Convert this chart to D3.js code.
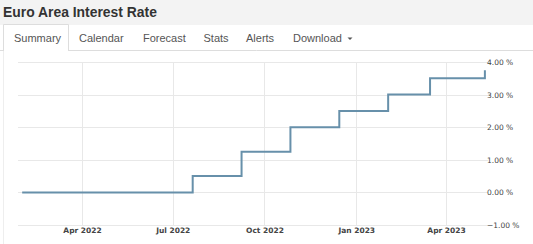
<!DOCTYPE html>
<html>
<head>
<meta charset="utf-8">
<script src="https://cdn.jsdelivr.net/npm/d3@7"></script>
<style>
  body { margin: 0; background: #fff; }
  svg { display: block; }
</style>
</head>
<body>
<div id="chart"></div>
<script>
// rate decisions, step chart (value holds until next date)
let dates = ["2022-01-31", "2022-03-10", "2022-04-14", "2022-06-09", "2022-07-21",
  "2022-09-08", "2022-10-27", "2022-12-15", "2023-02-02", "2023-03-16", "2023-05-10"];
let rates = [0, 0, 0, 0, 0.5, 1.25, 2.0, 2.5, 3.0, 3.5, 3.75];
let xTicks = ["2022-04-01", "2022-07-01", "2022-10-01", "2023-01-01", "2023-04-01"];
let yTicks = [-1, 0, 1, 2, 3, 4];
let tabs = ["Summary", "Calendar", "Forecast", "Stats", "Alerts", "Download"];

let parse = d3.timeParse("%Y-%m-%d");
let data = dates.map((d, i) => ({date: parse(d), value: rates[i]}));

let width = 533, height = 244;
let svg = d3.select("#chart").append("svg")
    .attr("width", width)
    .attr("height", height);

// header
svg.append("rect").attr("x", 0).attr("y", 0).attr("width", width).attr("height", 25)
    .attr("fill", "#f3f3f3");
svg.append("text").attr("x", 3).attr("y", 17)
    .attr("font-family", "Liberation Sans, Arial, sans-serif")
    .attr("font-size", 13.9).attr("font-weight", "bold").attr("fill", "#333")
    .text("Euro Area Interest Rate");

// tab bar
svg.append("line").attr("x1", 0).attr("x2", width).attr("y1", 50.5).attr("y2", 50.5)
    .attr("stroke", "#ddd");
svg.append("path")
    .attr("d", "M3.5,51V24.5H68.5V51")
    .attr("fill", "#fff").attr("stroke", "#ddd");
svg.append("rect").attr("x", 4).attr("y", 25).attr("width", 64).attr("height", 27).attr("fill", "#fff");
let tabX = [14, 79, 143, 203.5, 246, 293];
svg.selectAll(".tab").data(tabs).join("text")
    .attr("class", "tab")
    .attr("x", (d, i) => tabX[i]).attr("y", 42)
    .attr("font-family", "Liberation Sans, Arial, sans-serif")
    .attr("font-size", 11).attr("fill", "#555")
    .text(d => d);
svg.append("path").attr("d", "M347.5,37.5h5l-2.5,2.5z").attr("fill", "#555");
svg.append("line").attr("x1", 3.5).attr("x2", 3.5).attr("y1", 51).attr("y2", height)
    .attr("stroke", "#eee");

// scales: Apr 2022 gridline at 82, Apr 2023 at 446
let x = d3.scaleTime()
    .domain([parse("2022-04-01"), parse("2023-04-01")])
    .range([82, 446]);
let y = d3.scaleLinear().domain([-1, 4]).range([225, 62]);
let left = 18, right = 488;

let grid = svg.append("g");
grid.selectAll(".hg").data(yTicks).join("line")
    .attr("x1", left).attr("x2", right)
    .attr("y1", d => Math.round(y(d)) + 0.5).attr("y2", d => Math.round(y(d)) + 0.5)
    .attr("stroke", "#e8e8e8");
grid.selectAll(".vg").data(xTicks.map(parse)).join("line")
    .attr("x1", d => Math.round(x(d)) + 0.5).attr("x2", d => Math.round(x(d)) + 0.5)
    .attr("y1", y(4)).attr("y2", y(-1))
    .attr("stroke", "#e8e8e8");

// y axis on right
let yAxis = d3.axisRight(y).tickValues(yTicks).tickSize(0).tickPadding(0)
    .tickFormat(d => d3.format(".2f")(d) + " %");
svg.append("g").attr("transform", `translate(${right - 1},0)`).call(yAxis)
    .call(g => g.select(".domain").remove())
    .call(g => g.selectAll("text")
      .attr("font-family", "DejaVu Sans, sans-serif").attr("font-size", 7.5).attr("fill", "#444"));

// x axis
let xAxis = d3.axisBottom(x).tickValues(xTicks.map(parse)).tickSize(0).tickPadding(0)
    .tickFormat(d3.timeFormat("%b %Y"));
svg.append("g").attr("transform", `translate(0,${y(-1) + 3})`).call(xAxis)
    .call(g => g.select(".domain").remove())
    .call(g => g.selectAll("text")
      .attr("font-family", "DejaVu Sans, sans-serif").attr("font-size", 7.5)
      .attr("font-weight", "bold").attr("fill", "#444"));

let line = d3.line()
    .x(d => x(d.date))
    .y(d => y(d.value))
    .curve(d3.curveStepAfter);
svg.append("path").datum(data)
    .attr("fill", "none")
    .attr("stroke", "#6790aa")
    .attr("stroke-width", 2)
    .attr("d", line);
</script>
</body>
</html>
